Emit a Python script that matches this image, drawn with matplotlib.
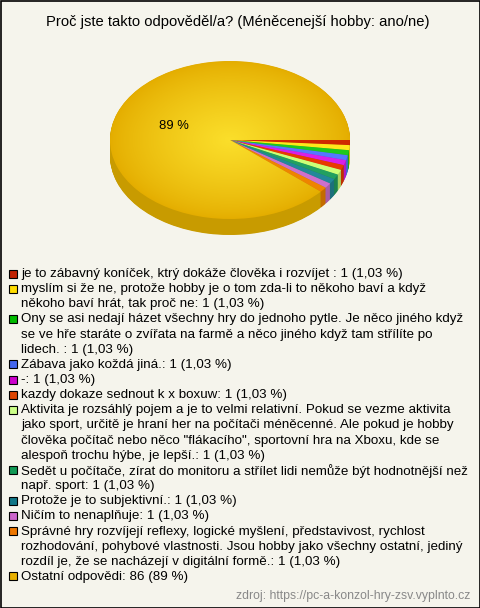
import numpy as np
import matplotlib
matplotlib.use("Agg")
import matplotlib.pyplot as plt
from matplotlib.patches import Rectangle
from matplotlib.colors import to_rgb

plt.rcParams['font.family'] = ['Liberation Sans', 'DejaVu Sans']

title = "Proč jste takto odpověděl/a? (Méněcenejší hobby: ano/ne)"
source = "zdroj: https://pc-a-konzol-hry-zsv.vyplnto.cz"

labels = [
    "je to zábavný koníček, ktrý dokáže člověka i rozvíjet ",
    "myslím si že ne, protože hobby je o tom zda-li to někoho baví a když\nněkoho baví hrát, tak proč ne",
    "Ony se asi nedají házet všechny hry do jednoho pytle. Je něco jiného když\nse ve hře staráte o zvířata na farmě a něco jiného když tam střílíte po\nlidech. ",
    "Zábava jako koždá jiná.",
    "-",
    "kazdy dokaze sednout k x boxuw",
    "Aktivita je rozsáhlý pojem a je to velmi relativní. Pokud se vezme aktivita\njako sport, určitě je hraní her na počítači méněcenné. Ale pokud je hobby\nčlověka počítač nebo něco \"flákacího\", sportovní hra na Xboxu, kde se\nalespoň trochu hýbe, je lepší.",
    "Sedět u počítače, zírat do monitoru a střílet lidi nemůže být hodnotnější než\nnapř. sport",
    "Protože je to subjektivní.",
    "Ničím to nenaplňuje",
    "Správné hry rozvíjejí reflexy, logické myšlení, představivost, rychlost\nrozhodování, pohybové vlastnosti. Jsou hobby jako všechny ostatní, jediný\nrozdíl je, že se nacházejí v digitální formě.",
    "Ostatní odpovědi",
]
counts = [1, 1, 1, 1, 1, 1, 1, 1, 1, 1, 1, 86]
pct_text = ["1,03 %"] * 11 + ["89 %"]

colors = ["#d02800", "#ffe81a", "#1ec81e", "#5577ff", "#d820e8", "#e83a00",
          "#ccff77", "#22a060", "#228899", "#cc70cc", "#ee8400", "#e4ad00"]
legend_colors = ["#c02000", "#ffdd00", "#00bb00", "#4466ee", "#cc00cc", "#dd4400",
                 "#ccff88", "#119955", "#117788", "#cc66cc", "#ee7700", "#e8b000"]
side_colors = [tuple(c * 0.82 for c in to_rgb(col)) for col in colors]
side_colors[-1] = "#c89b00"

bg = "#f5f4ec"
W, H = 480, 608
fig = plt.figure(figsize=(W / 100, H / 100), dpi=100, facecolor=bg)

# pie axes: ellipse centre (230,140), rx=120, ry=79, depth 16 px
cx, cy, rx, ry, depth = 230, 140, 120, 79, 16
ylo = -1 - depth / ry - 0.05
ax = fig.add_axes([(cx - rx) / W, 1 - (cy - ylo * ry) / H, 2 * rx / W, (1 - ylo) * ry / H])
ax.set_facecolor("none")

for d in np.linspace(depth / ry, 0.005, 30):
    ax.pie(counts, colors=side_colors, startangle=0, counterclock=False,
           center=(0, -d), wedgeprops=dict(linewidth=0))

def gold_pct(p):
    return "89 %" if p > 50 else ""

wedges, _, autotexts = ax.pie(counts, colors=colors, startangle=0, counterclock=False,
                              autopct=gold_pct, pctdistance=0.5,
                              wedgeprops=dict(linewidth=0),
                              textprops=dict(fontsize=9.4, color="black"))

# radial highlight on the big slice
yy, xx = np.mgrid[-1:1:300j, -1:1:300j]
r = np.clip(np.sqrt(xx ** 2 + yy ** 2), 0, 1)
glow = np.zeros((300, 300, 4))
glow[..., 0] = 1.0
glow[..., 1] = 0.91
glow[..., 2] = 0.2
glow[..., 3] = 0.85 * (1 - r) ** 0.8
im = ax.imshow(glow, extent=(-1, 1, -1, 1), origin="lower", zorder=wedges[-1].get_zorder() + 0.1,
               aspect="auto")
im.set_clip_path(wedges[-1])
for t in autotexts:
    t.set_zorder(10)

ax.set_aspect("auto")
ax.set_xlim(-1, 1)
ax.set_ylim(ylo, 1)
ax.axis("off")

# overlay axes in pixel coordinates for text and legend
ov = fig.add_axes([0, 0, 1, 1])
ov.set_xlim(0, W)
ov.set_ylim(H, 0)
ov.axis("off")
ov.set_facecolor("none")
ov.add_patch(Rectangle((0.5, 0.5), W - 1, H - 1, fill=False, edgecolor="black", linewidth=1.2))

ov.text(238, 22, title, ha="center", va="center", fontsize=10.6)

line_h = 15.15
y = 274
for lab, cnt, pt, col in zip(labels, counts, pct_text, legend_colors):
    ov.add_patch(Rectangle((8.5, y - 4.5), 8, 8, facecolor=col, edgecolor="black", linewidth=0.8))
    lines = f"{lab}: {cnt} ({pt})".split("\n")
    for ln in lines:
        ov.text(21, y, ln, ha="left", va="center", fontsize=9.65)
        y += line_h

ov.text(470, 596, source, ha="right", va="center", fontsize=8.8, color="#888888")

fig.savefig("out.png", dpi=100, facecolor=bg)
